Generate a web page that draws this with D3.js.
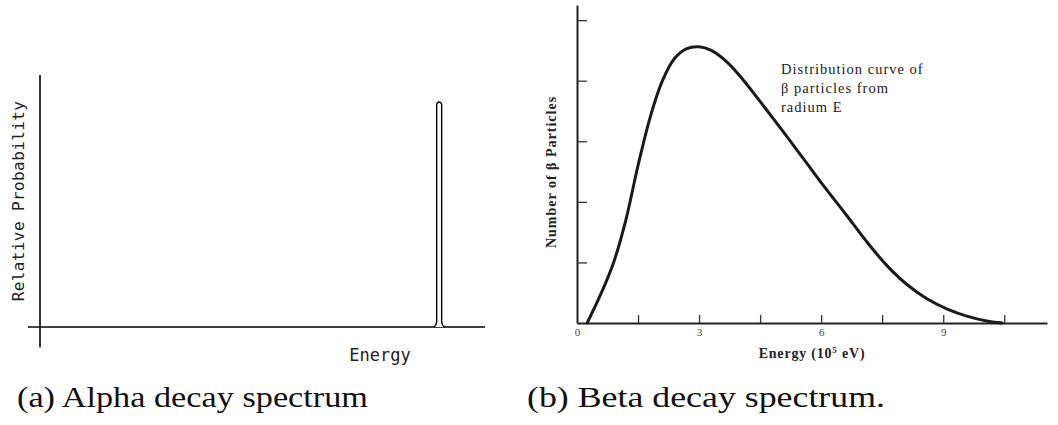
<!DOCTYPE html>
<html>
<head>
<meta charset="utf-8">
<script src="https://cdn.jsdelivr.net/npm/d3@7/dist/d3.min.js"></script>
<style>
  html, body { margin: 0; padding: 0; background: #fff; }
  svg { display: block; }
</style>
</head>
<body>
<svg id="chart" width="1058" height="425"></svg>
<script>
// ---- Data ----
// (a) Alpha decay: single sharp line
const alphaPeakEnergy = [89.7];       // arbitrary energy units
const alphaPeakProb = [1.0];          // relative probability

// (b) Beta decay spectrum (energy in 10^5 eV, number in tick units)
const betaEnergy = [0.25, 0.6, 0.9, 1.2, 1.5, 1.8, 2.1, 2.4, 2.7, 3.0, 3.3, 3.7, 4.1, 4.6, 5.1, 5.6, 6.1, 6.6, 7.1, 7.6, 8.1, 8.6, 9.1, 9.6, 10.1, 10.45];
const betaCount  = [0.00, 0.50, 1.00, 1.70, 2.60, 3.40, 4.00, 4.37, 4.53, 4.56, 4.50, 4.30, 4.00, 3.57, 3.13, 2.68, 2.23, 1.80, 1.36, 0.96, 0.64, 0.40, 0.23, 0.11, 0.03, 0.00];
const betaXTicks = [1.5, 3, 4.5, 6, 7.5, 9, 10.5];
const betaXLabels = [0, 3, 6, 9];
const betaYTicks = [1, 2, 3, 4, 5];

const captions = ["(a) Alpha decay spectrum", "(b) Beta decay spectrum."];
const annotationLines = ["Distribution curve of", "β particles from", "radium E"];

const svg = d3.select("#chart");

// ---------- Panel (a) ----------
const xA = d3.scaleLinear().domain([0, 100]).range([40, 485]);
const yA = d3.scaleLinear().domain([0, 1]).range([327, 102]);
const gA = svg.append("g");

gA.append("line")
  .attr("x1", xA(-2.7)).attr("x2", xA(100))
  .attr("y1", yA(0)).attr("y2", yA(0))
  .attr("stroke", "#000").attr("stroke-width", 1.6);
gA.append("line")
  .attr("x1", xA(0)).attr("x2", xA(0))
  .attr("y1", yA(-0.09)).attr("y2", yA(1.12))
  .attr("stroke", "#000").attr("stroke-width", 1.6);

// spike
gA.selectAll("path.spike").data(alphaPeakEnergy.map((e, i) => ({e, p: alphaPeakProb[i]})))
  .enter().append("path")
  .attr("class", "spike")
  .attr("d", d => {
    const cx = xA(d.e), top = yA(d.p), base = yA(0);
    return `M${cx - 5.5},${base} Q${cx - 3},${base - 1} ${cx - 2.5},${base - 5}` +
           ` L${cx - 2.5},${top + 2} Q${cx},${top - 2} ${cx + 2.5},${top + 2}` +
           ` L${cx + 2.5},${base - 5} Q${cx + 3},${base - 1} ${cx + 5.5},${base}`;
  })
  .attr("fill", "#fff").attr("stroke", "#000").attr("stroke-width", 1.4);

gA.append("text")
  .attr("transform", `translate(24,${(yA(0) + yA(1.12)) / 2})rotate(-90)`)
  .attr("text-anchor", "middle")
  .attr("font-family", "DejaVu Sans Mono")
  .attr("font-size", 16)
  .attr("letter-spacing", 0.4)
  .attr("fill", "#222")
  .text("Relative Probability");

gA.append("text")
  .attr("x", 380).attr("y", 361)
  .attr("text-anchor", "middle")
  .attr("font-family", "DejaVu Sans Mono")
  .attr("font-size", 17)
  .attr("fill", "#222")
  .text("Energy");

// ---------- Panel (b) ----------
const xB = d3.scaleLinear().domain([0, 11.55]).range([577, 1047]);
const yB = d3.scaleLinear().domain([0, 5.25]).range([323, 5]);
const gB = svg.append("g");

const xAxis = d3.axisBottom(xB)
  .tickValues([0, ...betaXTicks])
  .tickSizeInner(-8).tickSizeOuter(0).tickPadding(5)
  .tickFormat(d => betaXLabels.includes(d) ? d : "");
const gx = gB.append("g").attr("transform", `translate(0,${yB(0)})`).call(xAxis);
gx.select(".domain").attr("stroke", "#222").attr("stroke-width", 2);
gx.selectAll(".tick line").attr("stroke", "#333").attr("stroke-width", 1.3);
gx.selectAll(".tick").filter(d => d === 0).select("line").remove();
gx.selectAll(".tick text")
  .attr("font-family", "Liberation Serif").attr("font-size", 11).attr("fill", "#444");

const yAxis = d3.axisLeft(yB)
  .tickValues(betaYTicks)
  .tickSizeInner(-10).tickSizeOuter(0)
  .tickFormat("");
const gy = gB.append("g").attr("transform", `translate(${xB(0)},0)`).call(yAxis);
gy.select(".domain").attr("stroke", "#222").attr("stroke-width", 2);
gy.selectAll(".tick line").attr("stroke", "#333").attr("stroke-width", 1.3);

const line = d3.line()
  .x((d, i) => xB(betaEnergy[i]))
  .y((d, i) => yB(betaCount[i]))
  .curve(d3.curveCatmullRom.alpha(0.5));
gB.append("path")
  .datum(betaCount)
  .attr("d", line)
  .attr("fill", "none").attr("stroke", "#1a1a1a").attr("stroke-width", 3)
  .attr("stroke-linejoin", "round").attr("stroke-linecap", "round");

gB.append("text")
  .attr("transform", `translate(556,${(yB(0) + yB(5.25)) / 2 + 8})rotate(-90)`)
  .attr("text-anchor", "middle")
  .attr("font-family", "Liberation Serif")
  .attr("font-weight", "bold")
  .attr("font-size", 14)
  .attr("letter-spacing", 1)
  .attr("fill", "#222")
  .text("Number of β Particles");

const xl = gB.append("text")
  .attr("x", 812).attr("y", 358)
  .attr("text-anchor", "middle")
  .attr("font-family", "Liberation Serif")
  .attr("font-weight", "bold")
  .attr("font-size", 14)
  .attr("letter-spacing", 0.8)
  .attr("fill", "#222");
xl.append("tspan").text("Energy (10");
xl.append("tspan").attr("dy", -5).attr("font-size", 9).text("5");
xl.append("tspan").attr("dy", 5).text(" eV)");

gB.selectAll("text.annot").data(annotationLines).enter().append("text")
  .attr("class", "annot")
  .attr("x", 781).attr("y", (d, i) => 74 + i * 19)
  .attr("font-family", "Liberation Serif")
  .attr("font-size", 14.5)
  .attr("letter-spacing", 1)
  .attr("fill", "#1a1a1a")
  .text(d => d);

// ---------- Captions ----------
svg.selectAll("text.cap").data(captions).enter().append("text")
  .attr("class", "cap")
  .attr("x", (d, i) => i === 0 ? 17 : 527)
  .attr("y", 407)
  .attr("font-family", "Liberation Serif")
  .attr("font-size", 30)
  .attr("textLength", (d, i) => i === 0 ? 351 : 358)
  .attr("lengthAdjust", "spacingAndGlyphs")
  .attr("fill", "#111")
  .text(d => d);
</script>
</body>
</html>
